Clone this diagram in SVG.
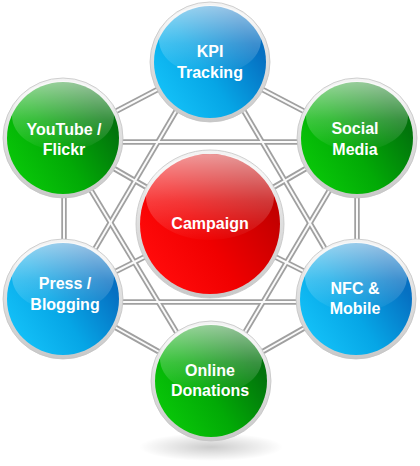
<svg xmlns="http://www.w3.org/2000/svg" width="420" height="466" viewBox="0 0 420 466">
<defs>
<style>
.tube-o{stroke:#a0a0a0;stroke-width:5.5;fill:none;stroke-linecap:butt}
.tube-i{stroke:#fbfbfb;stroke-width:2;fill:none}
.ring{fill:url(#ringG);stroke:#c4c4c4;stroke-width:0.8}
.blue{fill:url(#blueG)}
.green{fill:url(#greenG)}
.red{fill:url(#redG)}
.hl{fill:url(#hlG)}
.lbl{font-family:"Liberation Sans",Arial,sans-serif;font-weight:bold;font-size:16px;fill:#ffffff;text-anchor:middle}
</style>
<linearGradient id="ringG" x1="0" y1="0" x2="0" y2="1">
<stop offset="0" stop-color="#f4f4f4"/><stop offset="1" stop-color="#c8c8c8"/>
</linearGradient>
<linearGradient id="blueG" x1="0.15" y1="0.85" x2="0.9" y2="0.35">
<stop offset="0" stop-color="#12bef6"/><stop offset="0.45" stop-color="#06a6e6"/><stop offset="1" stop-color="#0670c2"/>
</linearGradient>
<linearGradient id="greenG" x1="0.15" y1="0.85" x2="0.9" y2="0.35">
<stop offset="0" stop-color="#08c408"/><stop offset="0.45" stop-color="#02aa06"/><stop offset="1" stop-color="#02740c"/>
</linearGradient>
<linearGradient id="redG" x1="0.15" y1="0.85" x2="0.9" y2="0.35">
<stop offset="0" stop-color="#ff0a0a"/><stop offset="0.45" stop-color="#f00000"/><stop offset="1" stop-color="#c40000"/>
</linearGradient>
<linearGradient id="hlG" x1="0" y1="0" x2="0" y2="1">
<stop offset="0" stop-color="#ffffff" stop-opacity="0.6"/><stop offset="0.55" stop-color="#ffffff" stop-opacity="0.22"/><stop offset="1" stop-color="#ffffff" stop-opacity="0.02"/>
</linearGradient>
<radialGradient id="shadowG" cx="0.5" cy="0.5" r="0.5">
<stop offset="0" stop-color="#000" stop-opacity="0.2"/><stop offset="1" stop-color="#000" stop-opacity="0"/>
</radialGradient>
</defs>
<rect width="420" height="466" fill="#ffffff"/>
<ellipse cx="211" cy="447" rx="72" ry="14" fill="url(#shadowG)"/>
<g id="connectors">
<g class="tube-o">
<line x1="210" y1="62" x2="63" y2="139"/>
<line x1="210" y1="62" x2="357" y2="139"/>
<line x1="64" y1="139" x2="64" y2="298"/>
<line x1="357" y1="139" x2="357" y2="298"/>
<line x1="63" y1="298" x2="211" y2="381"/>
<line x1="357" y1="298" x2="211" y2="381"/>
<line x1="63" y1="142" x2="357" y2="142"/>
<line x1="63" y1="302" x2="357" y2="302"/>
<line x1="205" y1="62" x2="66" y2="298"/>
<line x1="215" y1="62" x2="354" y2="298"/>
<line x1="60" y1="139" x2="206" y2="381"/>
<line x1="360" y1="139" x2="216" y2="381"/>
<line x1="210" y1="224" x2="63" y2="139"/>
<line x1="210" y1="224" x2="357" y2="139"/>
<line x1="210" y1="224" x2="63" y2="298"/>
<line x1="210" y1="224" x2="357" y2="298"/>
</g>
<g class="tube-i">
<line x1="210" y1="62" x2="63" y2="139"/>
<line x1="210" y1="62" x2="357" y2="139"/>
<line x1="64" y1="139" x2="64" y2="298"/>
<line x1="357" y1="139" x2="357" y2="298"/>
<line x1="63" y1="298" x2="211" y2="381"/>
<line x1="357" y1="298" x2="211" y2="381"/>
<line x1="63" y1="142" x2="357" y2="142"/>
<line x1="63" y1="302" x2="357" y2="302"/>
<line x1="205" y1="62" x2="66" y2="298"/>
<line x1="215" y1="62" x2="354" y2="298"/>
<line x1="60" y1="139" x2="206" y2="381"/>
<line x1="360" y1="139" x2="216" y2="381"/>
<line x1="210" y1="224" x2="63" y2="139"/>
<line x1="210" y1="224" x2="357" y2="139"/>
<line x1="210" y1="224" x2="63" y2="298"/>
<line x1="210" y1="224" x2="357" y2="298"/>
</g>
</g>
<g id="node-kpi">
<circle class="ring" cx="210" cy="62" r="60"/>
<circle class="blue" cx="210" cy="62" r="56"/>
<ellipse class="hl" cx="210" cy="40" rx="51" ry="35"/>
<text class="lbl" x="210" y="57">KPI</text>
<text class="lbl" x="210" y="78">Tracking</text>
</g>
<g id="node-youtube">
<circle class="ring" cx="63" cy="138" r="60"/>
<circle class="green" cx="63" cy="138" r="56"/>
<ellipse class="hl" cx="63" cy="116" rx="51" ry="35"/>
<text class="lbl" x="64" y="135">YouTube /</text>
<text class="lbl" x="64" y="155">Flickr</text>
</g>
<g id="node-social">
<circle class="ring" cx="357" cy="138" r="60"/>
<circle class="green" cx="357" cy="138" r="56"/>
<ellipse class="hl" cx="357" cy="116" rx="51" ry="35"/>
<text class="lbl" x="355" y="134">Social</text>
<text class="lbl" x="355" y="155">Media</text>
</g>
<g id="node-campaign">
<circle class="ring" cx="210" cy="224" r="74"/>
<circle class="red" cx="210" cy="224" r="70"/>
<ellipse class="hl" cx="210" cy="197" rx="64" ry="43"/>
<text class="lbl" x="210" y="229">Campaign</text>
</g>
<g id="node-press">
<circle class="ring" cx="63" cy="299" r="60"/>
<circle class="blue" cx="63" cy="299" r="56"/>
<ellipse class="hl" cx="63" cy="277" rx="51" ry="35"/>
<text class="lbl" x="65" y="289">Press /</text>
<text class="lbl" x="65" y="310">Blogging</text>
</g>
<g id="node-nfc">
<circle class="ring" cx="356" cy="299" r="60"/>
<circle class="blue" cx="356" cy="299" r="56"/>
<ellipse class="hl" cx="356" cy="277" rx="51" ry="35"/>
<text class="lbl" x="355" y="294">NFC &amp;</text>
<text class="lbl" x="355" y="314">Mobile</text>
</g>
<g id="node-online">
<circle class="ring" cx="211" cy="381" r="60"/>
<circle class="green" cx="211" cy="381" r="56"/>
<ellipse class="hl" cx="211" cy="359" rx="51" ry="35"/>
<text class="lbl" x="210" y="376">Online</text>
<text class="lbl" x="210" y="396">Donations</text>
</g>
</svg>
